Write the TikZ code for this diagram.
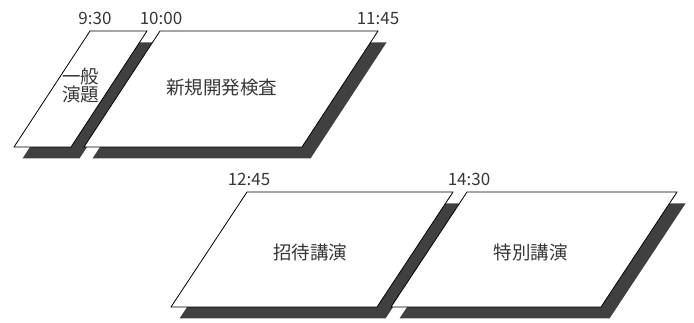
\documentclass[tikz,border=0pt]{standalone}
\usepackage{fontspec}
\newfontfamily\jpfont{Noto Sans CJK JP}
\definecolor{shadowgray}{RGB}{64,64,64}
\definecolor{labelgray}{RGB}{55,55,55}

\begin{document}
\begin{tikzpicture}[x=1pt,y=-1pt,every node/.style={inner sep=0pt,text=labelgray},slot/.style={draw=black,fill=white,line width=0.8pt,line join=miter},slotshadow/.style={fill=shadowgray,shift={(8.5,11.5)}},title/.style={font=\jpfont\fontsize{18.5}{18}\selectfont,align=center},clock/.style={font=\jpfont\fontsize{17}{17}\selectfont,anchor=base}]
	\useasboundingbox (0,0) rectangle (694,323);

	% shadows first, the slots lie over them
	\fill[slotshadow] (90,31) -- (147,31) -- (71,147) -- (14,147) -- cycle;
	\fill[slotshadow] (160,31) -- (378,31) -- (302,147) -- (84,147) -- cycle;
	\fill[slotshadow] (247,192) -- (453,192) -- (377,307) -- (171,307) -- cycle;
	\fill[slotshadow] (467,192) -- (677,192) -- (601,307) -- (391,307) -- cycle;

	\draw[slot] (90,31) -- (147,31) -- (71,147) -- (14,147) -- cycle;
	\draw[slot] (160,31) -- (378,31) -- (302,147) -- (84,147) -- cycle;
	\draw[slot] (247,192) -- (453,192) -- (377,307) -- (171,307) -- cycle;
	\draw[slot] (467,192) -- (677,192) -- (601,307) -- (391,307) -- cycle;

	\node[title] (ippan) at (80.5,86) {一般\\演題};
	\node[title] (shinki) at (221.5,88) {新規開発検査};
	\node[title] (shotai) at (310,252.5) {招待講演};
	\node[title] (tokubetsu) at (530.5,252.5) {特別講演};

	\node[clock] (t0930) at (95,25) {9:30};
	\node[clock] (t1000) at (161,25) {10:00};
	\node[clock] (t1145) at (378,25) {11:45};
	\node[clock] (t1245) at (249,186) {12:45};
	\node[clock] (t1430) at (469,186) {14:30};
\end{tikzpicture}
\end{document}
